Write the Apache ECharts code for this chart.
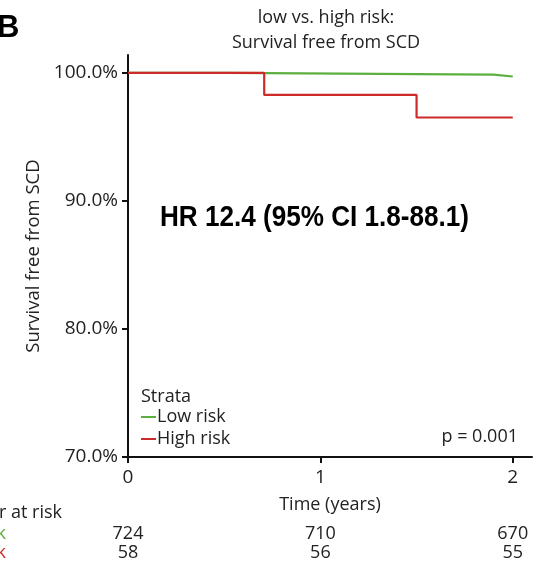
<!DOCTYPE html>
<html>
<head>
<meta charset="utf-8">
<script src="https://cdn.jsdelivr.net/npm/echarts@6/dist/echarts.min.js"></script>
<style>
  html, body { margin: 0; padding: 0; background: #fff; }
  #chart { width: 546px; height: 566px; }
</style>
</head>
<body>
<div id="chart"></div>
<script>
// Kaplan-Meier step points (time in years, survival in %)
const lowTimes = [0, 0.52, 1.9, 2.0];
const lowSurv = [100, 99.86, 99.72, 99.72];
const highTimes = [0, 0.708, 1.5, 2.0];
const highSurv = [100, 98.28, 96.52, 96.52];

// Number-at-risk table
const riskTimes = [0, 1, 2];
const lowAtRisk = [724, 710, 670];
const highAtRisk = [58, 56, 55];

const yTicks = [70, 80, 90, 100];
const xTicks = [0, 1, 2];

const GREEN = '#5caf3e';
const RED = '#cc2b27';
const FONT = '"Open Sans", sans-serif';
const TXT = '#222';
const FS = 18;

const pairs = (xs, ys) => xs.map((x, i) => [x, ys[i]]);

const chart = echarts.init(document.getElementById('chart'));

chart.setOption({
  animation: false,
  backgroundColor: '#fff',
  title: {
    text: 'low vs. high risk:\nSurvival free from SCD',
    left: 321, top: 0, textAlign: 'center',
    textStyle: { fontFamily: FONT, fontSize: FS, fontWeight: 'normal', color: TXT, lineHeight: 25 }
  },
  grid: { left: 128, right: 14, top: 55, bottom: 109 },
  xAxis: {
    type: 'value', min: 0, max: 2.1,
    name: 'Time (years)', nameLocation: 'middle', nameGap: 39,
    nameTextStyle: { fontFamily: FONT, fontSize: FS, color: TXT },
    axisLine: { show: true, onZero: false, lineStyle: { color: '#111', width: 2 } },
    axisTick: { show: true, customValues: xTicks, length: 6, lineStyle: { color: '#111', width: 2 } },
    axisLabel: { customValues: xTicks, fontFamily: FONT, fontSize: 19, color: TXT, margin: 11 },
    splitLine: { show: false }
  },
  yAxis: {
    type: 'value', min: 70, max: 101.4,
    name: 'Survival free from SCD', nameLocation: 'middle', nameGap: 84, nameRotate: 90,
    nameTextStyle: { fontFamily: FONT, fontSize: 18.5, color: TXT },
    axisLine: { show: true, lineStyle: { color: '#111', width: 2 } },
    axisTick: { show: true, customValues: yTicks, length: 6, lineStyle: { color: '#111', width: 2 } },
    axisLabel: {
      customValues: yTicks, fontFamily: FONT, fontSize: 19, color: TXT, margin: 10,
      formatter: v => v.toFixed(1) + '%'
    },
    splitLine: { show: false }
  },
  legend: {
    left: 136, top: 401, orient: 'vertical', itemGap: 0,
    icon: 'rect', itemWidth: 15, itemHeight: 2,
    textStyle: { fontFamily: FONT, fontSize: FS, color: TXT, padding: [0, 0, 0, -4], lineHeight: 22 },
    data: ['Low risk', 'High risk']
  },
  series: [
    {
      name: 'Low risk', type: 'line', step: 'end', showSymbol: false,
      data: pairs(lowTimes, lowSurv),
      lineStyle: { color: GREEN, width: 2.2 }, itemStyle: { color: GREEN }, z: 2
    },
    {
      name: 'High risk', type: 'line', step: 'end', showSymbol: false,
      data: pairs(highTimes, highSurv),
      lineStyle: { color: RED, width: 2.2 }, itemStyle: { color: RED }, z: 3
    }
  ]
});

// Annotations and the number-at-risk table, placed through the axis scales
const px = x => chart.convertToPixel({ gridIndex: 0 }, [x, 70])[0];
const textStyle = (extra) => Object.assign({ fontFamily: FONT, fontSize: FS, fill: TXT }, extra);

const graphics = [
  { type: 'text', left: -3, top: 13, style: { text: 'B', fontFamily: 'Liberation Sans, Arial, sans-serif', fontSize: 31, fontWeight: 'bold', fill: '#000' } },
  { type: 'text', x: 160, y: 218, scaleX: 0.9, style: { text: 'HR 12.4 (95% CI 1.8-88.1)', fontFamily: 'Liberation Sans, Arial, sans-serif', fontSize: 29, fontWeight: 'bold', fill: '#000', verticalAlign: 'middle' } },
  { type: 'text', x: 141, y: 397, style: textStyle({ text: 'Strata', verticalAlign: 'middle' }) },
  { type: 'text', x: 518, y: 437, style: textStyle({ text: 'p = 0.001', align: 'right', verticalAlign: 'middle' }) },
  { type: 'text', x: 62, y: 513, style: textStyle({ text: 'Number at risk', align: 'right', verticalAlign: 'middle' }) },
  { type: 'text', x: 6, y: 534, style: textStyle({ text: 'Low risk', align: 'right', verticalAlign: 'middle', fill: GREEN }) },
  { type: 'text', x: 6, y: 553, style: textStyle({ text: 'High risk', align: 'right', verticalAlign: 'middle', fill: RED }) }
];
riskTimes.forEach((t, i) => {
  graphics.push({ type: 'text', x: px(t), y: 534, style: textStyle({ text: String(lowAtRisk[i]), align: 'center', verticalAlign: 'middle' }) });
  graphics.push({ type: 'text', x: px(t), y: 553, style: textStyle({ text: String(highAtRisk[i]), align: 'center', verticalAlign: 'middle' }) });
});
chart.setOption({ graphic: graphics });
</script>
</body>
</html>
